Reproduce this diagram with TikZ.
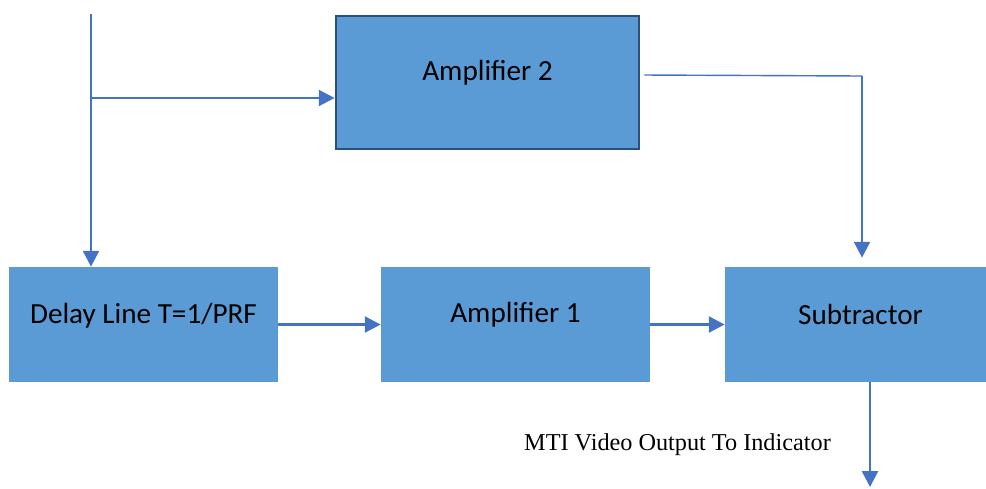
\documentclass[tikz,border=0pt]{standalone}
\usepackage{fontspec}
\setmainfont{Carlito}
\newfontfamily\timesfont{Liberation Serif}
\usetikzlibrary{arrows.meta}
\definecolor{boxblue}{HTML}{5B9BD5}
\definecolor{lineblue}{HTML}{4472C4}
\definecolor{edgeblue}{HTML}{2E4F78}

\begin{document}
\begin{tikzpicture}
  [x=0.02cm,y=-0.02cm,
   block/.style={rectangle,fill=boxblue,minimum width=5.38cm,minimum height=2.3cm,inner sep=0pt},
   every label/.style={font=\fontsize{16.6}{20}\selectfont,inner sep=0pt},
   wire/.style={draw=lineblue,line width=1.5pt},
   arr/.style={wire,-{Triangle[length=9pt,width=9pt]}}]
  \useasboundingbox (0,0) rectangle (986,488);

  % blocks
  \node[block,minimum width=6.06cm,minimum height=2.66cm,draw=edgeblue,line width=1.6pt,
        label={[yshift=0.2cm]center:Amplifier 2}] (amp2) at (487.5,82.5) {};
  \node[block,label={[yshift=0.17cm]center:Delay Line T=1/PRF}] (delay) at (143.5,324.5) {};
  \node[block,label={[yshift=0.2cm]center:Amplifier 1}] (amp1) at (515.5,324.5) {};
  \node[block,minimum width=5.22cm,label={[xshift=0.1cm,yshift=0.2cm]center:Subtractor}] (sub) at (855.5,324.5) {};
  \node[font=\timesfont\fontsize{13.8}{16}\selectfont] (mti) at (677.5,445) {MTI Video Output To Indicator};

  % free ends
  \coordinate (in) at (91,14);
  \coordinate (split) at (91,98);
  \coordinate (turn) at (862,76);
  \coordinate (outend) at (870,487);

  % connectors
  \draw[wire] (in) -- (split);
  \draw[arr] (split) -- (delay.north -| split);
  \draw[arr] (split) -- (split -| amp2.west);
  \draw[wire,line width=0.8pt] ([xshift=0.08cm,yshift=0.15cm]amp2.east) -- (turn);
  \draw[arr,shorten >=0.18cm] (turn) -- (turn |- sub.north);
  \foreach \from/\to in {delay/amp1,amp1/sub}
    \draw[arr] (\from.east) -- (\to.west);
  \draw[arr] (sub.south -| outend) -- (outend);

\end{tikzpicture}
\end{document}
